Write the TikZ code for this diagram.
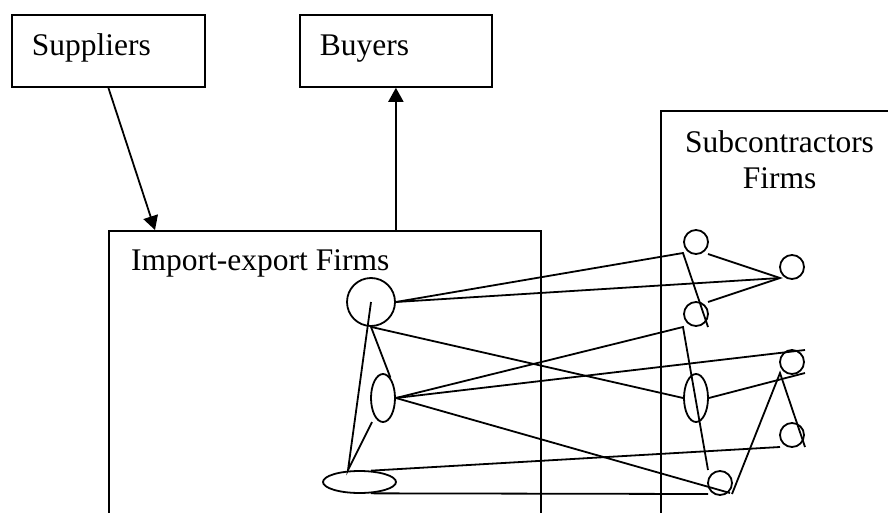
\documentclass[tikz,border=0pt]{standalone}
\usepackage{fontspec}
\setmainfont{Liberation Serif}
\usetikzlibrary{arrows.meta,shapes.geometric}

\begin{document}
\begin{tikzpicture}[x=1pt, y=-1pt, line width=1.8pt,
		every node/.style={font=\fontsize{31.5}{36}\selectfont},
		box/.style={draw, anchor=north west, minimum height=72pt, inner xsep=20pt, align=left, text height=21pt, text depth=11pt},
		frame/.style={draw, anchor=north west, inner sep=0pt},
		firm/.style={draw, circle, inner sep=0pt, minimum size=24pt},
		oval/.style={draw, ellipse, inner sep=0pt},
		flow/.style={-{Triangle[length=14pt, width=15pt]}}]
		\useasboundingbox (0,0) rectangle (888,513);
		\clip (0,0) rectangle (888,513);
		
		\node[box, text width=153pt] (sup) at (11,14) {Suppliers};
		\node[box, text width=152pt] (buy) at (299,14) {Buyers};
		
		% the two frames run on past the bottom edge
		\node[frame, minimum width=432pt, minimum height=320pt] (ieframe) at (108,230) {};
		\node[frame, minimum width=260pt, minimum height=440pt] (subframe) at (660,110) {};
		\node[anchor=base west] (ie) at (127,270) {Import-export Firms};
		\node[anchor=base, align=center] (sub) at (779.5,189) {Subcontractors\\Firms};
		
		\node[firm, minimum size=48pt] (hub) at (371,302) {};
		\node[oval, minimum width=24pt, minimum height=48pt] (mid) at (383,398) {};
		\node[oval, minimum width=73pt, minimum height=22pt] (low) at (359.5,482) {};
		
		\node[firm] (s1) at (696,242) {};
		\node[firm] (s2) at (696,314) {};
		\node[firm] (s3) at (792,267) {};
		\node[oval, minimum width=24pt, minimum height=48pt] (s4) at (696,398) {};
		\node[firm] (s5) at (792,362) {};
		\node[firm] (s6) at (792,435) {};
		\node[firm] (s7) at (720,483) {};
		
		\coordinate (supin) at (155,230);
		\coordinate (k1) at (683,253);
		\coordinate (k2) at (708,327);
		\coordinate (t1) at (780,278);
		\coordinate (u1) at (708,254);
		\coordinate (u2) at (708,302);
		\coordinate (k3) at (683,327);
		\coordinate (k4) at (708,470);
		\coordinate (r1) at (805,350);
		\coordinate (r2) at (730,493);
		\coordinate (r3) at (805,373);
		\coordinate (a1) at (348,470);
		\coordinate (a2) at (372,422);
		\coordinate (e1) at (780,447);
		\coordinate (e2) at (708,494);
		\coordinate (z1) at (732,494);
		\coordinate (z2) at (780,373);
		\coordinate (z3) at (805,447);
		
		\draw[flow] (sup.south) -- (supin);
		\draw[flow] (ieframe.north -| buy.south) -- (buy.south);
		
		\draw (hub.east) -- (k1) -- (k2);
		\draw (hub.east) -- (t1);
		\draw (u1) -- (t1) -- (u2);
		\draw (hub.south) -- (s4.west);
		\draw (s4.east) -- (r3);
		\draw (hub.center) -- (a1) -- (a2);
		\draw (hub.south) -- (mid.70);
		\draw (mid.east) -- (k3) -- (k4);
		\draw (mid.east) -- (r1);
		\draw (mid.east) -- (r2);
		\draw (low.45) -- (e1);
		\draw (low.-45) -- (e2);
		\draw (z1) -- (z2) -- (z3);
	\end{tikzpicture}
\end{document}
